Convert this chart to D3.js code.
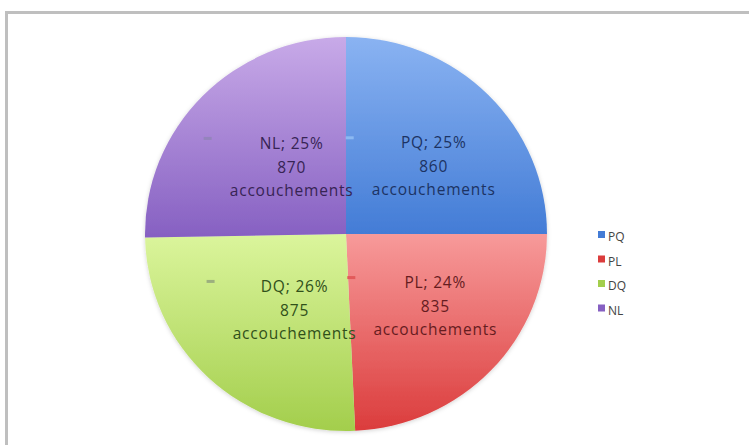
<!DOCTYPE html>
<html>
<head>
<meta charset="utf-8">
<script src="https://cdn.jsdelivr.net/npm/d3@7"></script>
<style>
    body { margin: 0; background: white; }
    svg { display: block; }
</style>
</head>
<body>
<svg id="chart"></svg>
<script>
// data
const categories = ["PQ", "PL", "DQ", "NL"];
const births = [860, 835, 875, 870];
const percentLabels = ["25%", "24%", "26%", "25%"];
const unitLabel = "accouchements";

// gradient colours per slice (top, bottom) and label text colour
const topColors = ["#8ab3f2", "#f79a9a", "#dbf59c", "#c8aae8"];
const bottomColors = ["#437cd6", "#db3c3c", "#a3ce4c", "#8660c2"];
const textColors = ["#1c3363", "#661c1f", "#30501a", "#372454"];
const keyColors = ["#8cb9f2", "#e25a5a", "#9caf7e", "#9484bc"];

const width = 749, height = 445;
const cx = 346, cy = 234;
const radius = 199;

const svg = d3.select("#chart")
    .attr("width", width)
    .attr("height", height)
    .style("font-family", "'Open Sans', sans-serif");

const defs = svg.append("defs");

// soft shadow round the pie
const shadow = defs.append("filter")
    .attr("id", "soft")
    .attr("x", "-10%").attr("y", "-10%")
    .attr("width", "120%").attr("height", "120%");
shadow.append("feDropShadow")
    .attr("dx", 0).attr("dy", 1)
    .attr("stdDeviation", 2)
    .attr("flood-color", "#000")
    .attr("flood-opacity", 0.18);

categories.forEach((c, i) => {
    const g = defs.append("linearGradient")
        .attr("id", "grad-" + c)
        .attr("x1", 0).attr("y1", 0)
        .attr("x2", 0).attr("y2", 1);
    g.append("stop").attr("offset", "0%").attr("stop-color", topColors[i]);
    g.append("stop").attr("offset", "100%").attr("stop-color", bottomColors[i]);
});

// outer frame (only top and left edges are inside the picture)
svg.append("rect")
    .attr("x", 6.5)
    .attr("y", 12.5)
    .attr("width", 760)
    .attr("height", 460)
    .attr("fill", "none")
    .attr("stroke", "#bfbfbf")
    .attr("stroke-width", 3);

const pie = d3.pie()
    .sort(null)
    .value((d) => d.value);

const table = categories.map((c, i) => ({ name: c, value: births[i], pct: percentLabels[i], idx: i }));
const arcs = pie(table);

const arc = d3.arc().innerRadius(0).outerRadius(radius);
const labelArc = d3.arc().innerRadius(100).outerRadius(100);

const pieG = svg.append("g")
    .attr("transform", `translate(${cx},${cy}) scale(1.01,0.99)`)
    .attr("filter", "url(#soft)");

pieG.selectAll("path")
    .data(arcs)
    .enter()
    .append("path")
    .attr("d", arc)
    .attr("fill", (d) => `url(#grad-${d.data.name})`);

// labels
const labels = svg.append("g")
    .attr("transform", `translate(${cx},${cy})`);

const lab = labels.selectAll("g")
    .data(arcs)
    .enter()
    .append("g")
    .attr("transform", (d) => {
        const [x, y] = labelArc.centroid(d);
        return `translate(${x + 17},${y + 9})`;
    });

// small legend key next to each label
lab.append("rect")
    .attr("x", -88)
    .attr("y", -36)
    .attr("width", 8)
    .attr("height", 3)
    .attr("fill", (d) => keyColors[d.data.idx]);

const txt = lab.append("text")
    .attr("text-anchor", "middle")
    .attr("fill", (d) => textColors[d.data.idx])
    .style("font-size", "15.5px")
    .style("letter-spacing", "0.8px");

txt.append("tspan")
    .attr("x", 0).attr("y", -24)
    .text((d) => `${d.data.name}; ${d.data.pct}`);
txt.append("tspan")
    .attr("x", 0).attr("y", 0)
    .text((d) => d.data.value);
txt.append("tspan")
    .attr("x", 0).attr("y", 23)
    .text(unitLabel);

// legend
const legend = svg.append("g")
    .attr("transform", "translate(598,237)");

const items = legend.selectAll("g")
    .data(categories)
    .enter()
    .append("g")
    .attr("transform", (d, i) => `translate(0,${i * 24.5})`);

items.append("rect")
    .attr("x", 0)
    .attr("y", -6)
    .attr("width", 7)
    .attr("height", 7)
    .attr("fill", (d, i) => bottomColors[i]);

items.append("text")
    .attr("x", 10)
    .attr("y", 0)
    .attr("dy", "0.35em")
    .attr("fill", "#444")
    .style("font-size", "12px")
    .text((d) => d);
</script>
</body>
</html>
